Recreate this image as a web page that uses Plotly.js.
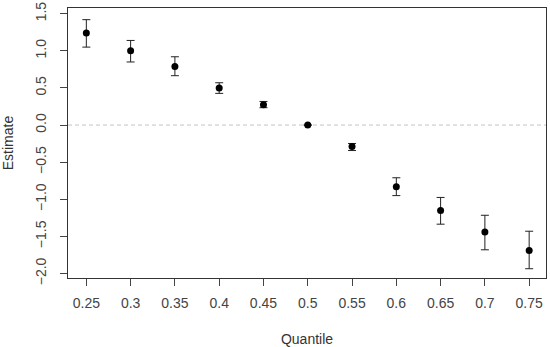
<!DOCTYPE html>
<html>
<head>
<meta charset="utf-8">
<script src="https://cdn.plot.ly/plotly-3.0.1.min.js"></script>
<style>html,body{margin:0;padding:0;background:#fff;}#chart{width:550px;height:347px;}</style>
</head>
<body>
<div id="chart"></div>
<script>
const quantiles = [0.25, 0.3, 0.35, 0.4, 0.45, 0.5, 0.55, 0.6, 0.65, 0.7, 0.75];
const estimates = [1.24, 1.00, 0.79, 0.50, 0.275, 0.0, -0.29, -0.83, -1.15, -1.44, -1.69];
const upperErr = [0.18, 0.14, 0.13, 0.07, 0.043, 0.0, 0.042, 0.12, 0.175, 0.225, 0.26];
const lowerErr = [0.19, 0.15, 0.125, 0.073, 0.041, 0.0, 0.053, 0.12, 0.185, 0.24, 0.245];
const xTickVals = [0.25, 0.3, 0.35, 0.4, 0.45, 0.5, 0.55, 0.6, 0.65, 0.7, 0.75];
const xTickText = ["0.25", "0.3", "0.35", "0.4", "0.45", "0.5", "0.55", "0.6", "0.65", "0.7", "0.75"];
const yTickVals = [-2.0, -1.5, -1.0, -0.5, 0.0, 0.5, 1.0, 1.5];
const yTickText = ["\u22122.0", "\u22121.5", "\u22121.0", "\u22120.5", "0.0", "0.5", "1.0", "1.5"];

const trace = {
  x: quantiles, y: estimates, type: 'scatter', mode: 'markers',
  marker: {color: '#000', size: 7},
  error_y: {type: 'data', symmetric: false, array: upperErr, arrayminus: lowerErr,
            color: '#222', thickness: 1, width: 4},
  hoverinfo: 'none', showlegend: false
};

const axisFont = {family: 'Liberation Sans, Arial, sans-serif', size: 14, color: '#444'};
const titleFont = {family: 'Liberation Sans, Arial, sans-serif', size: 14, color: '#333'};
const layout = {
  width: 550, height: 347,
  margin: {l: 68, r: 4, t: 8, b: 69, pad: 0},
  paper_bgcolor: '#fff', plot_bgcolor: '#fff',
  xaxis: {
    range: [0.2293, 0.769], tickmode: 'array', tickvals: xTickVals, ticktext: xTickText,
    showgrid: false, zeroline: false, showline: true, mirror: true, linecolor: '#333', linewidth: 1,
    ticks: 'outside', ticklen: 7, tickcolor: '#444', tickwidth: 1,
    tickfont: axisFont, ticklabelstandoff: 5,
    title: {text: 'Quantile', font: titleFont, standoff: 24}
  },
  yaxis: {
    range: [-2.06, 1.577], tickmode: 'array', tickvals: yTickVals, ticktext: yTickText,
    showgrid: false, zeroline: false, showline: true, mirror: true, linecolor: '#333', linewidth: 1,
    ticks: 'outside', ticklen: 7, tickcolor: '#444', tickwidth: 1, tickangle: -90,
    tickfont: axisFont, ticklabelstandoff: 8,
    title: {text: 'Estimate', font: titleFont, standoff: 16}
  },
  shapes: [{type: 'line', xref: 'paper', x0: 0, x1: 1, yref: 'y', y0: 0, y1: 0,
            line: {color: '#c4c4c4', width: 1, dash: '4px,3px'}, layer: 'below'}]
};

Plotly.newPlot('chart', [trace], layout, {displayModeBar: false, staticPlot: true});
</script>
</body>
</html>
